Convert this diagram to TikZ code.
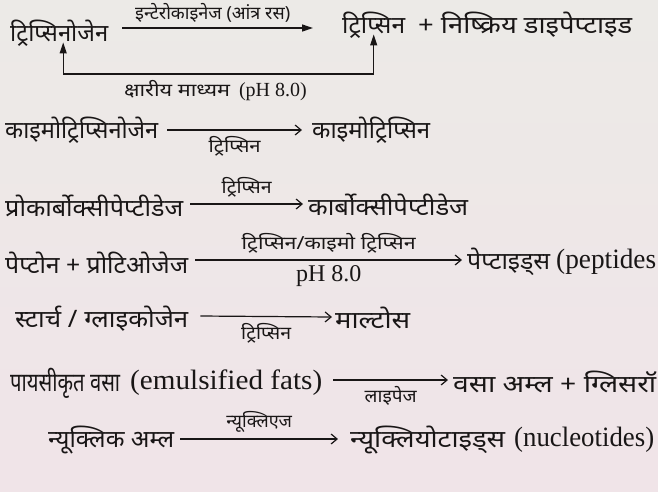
\documentclass[tikz,border=0pt]{standalone}
\usepackage{fontspec}
\usepackage{graphicx}
\setmainfont{Liberation Serif}
\newfontfamily\dev[Script=Devanagari,WordSpace=1.6]{Noto Sans}
\newfontfamily\devn[Script=Devanagari]{Noto Sans}
\usetikzlibrary{arrows.meta,calc}
\definecolor{ink}{RGB}{25,22,22}
\definecolor{papertop}{RGB}{236,234,231}
\definecolor{paperbot}{RGB}{240,228,232}
\tikzset{
  txt/.style={inner sep=0pt, anchor=west, text=ink, font=\dev\fontsize{24}{28}\selectfont},
  txtn/.style={txt, font=\devn\fontsize{24}{28}\selectfont},
  lat/.style={inner sep=0pt, anchor=west, text=ink, font=\rmfamily\fontsize{28}{32}\selectfont},
  lbl/.style={inner sep=0pt, text=ink, font=\dev\fontsize{18}{20}\selectfont},
  rxn/.style={draw=ink, line width=1.2pt, -{Straight Barb[length=6pt,width=10pt]}},
  rxnf/.style={draw=ink, line width=1.3pt, -{Triangle[length=11pt,width=7pt]}},
  fb/.style={draw=ink, line width=1.3pt, {Triangle[length=11pt,width=7pt]}-{Triangle[length=11pt,width=7pt]}},
}
\newcommand{\fw}[2]{\resizebox{#1}{\height}{#2}}
\begin{document}
\begin{tikzpicture}[x=1pt,y=-1pt]
\shade[top color=papertop, bottom color=paperbot] (0,0) rectangle (658,491);
\clip (0,0) rectangle (658,491);
% Row 1
\node[txt] (tg) at (10,33) {\fw{98pt}{ट्रिप्सिनोजेन}};
\node[txt] (tp) at (342,25) {\fw{63pt}{ट्रिप्सिन}};
\node[txt] (dp) at (418,25) {\fw{214pt}{+ निष्क्रिय डाइपेप्टाइड}};
\draw[rxnf] ($(tg.east)+(14,-5)$) -- ($(tp.west |- tg.east)+(-29,-5)$) node[lbl, midway, above=5pt, xshift=-5pt] {\fw{155pt}{इन्टेरोकाइनेज (आंत्र रस)}};
\coordinate (fbline) at (0,74);
\draw[fb] ([xshift=4pt,yshift=4pt]tg.south) -- ([xshift=4pt]tg.south |- fbline) -- ([xshift=0pt]tp.south |- fbline) node[lbl, pos=0.5, below=6pt, xshift=-3pt] {\fw{106pt}{क्षारीय माध्यम}\hspace{9pt}{\rmfamily\fontsize{20}{24}\selectfont (pH 8.0)}} -- ([xshift=0pt,yshift=4pt]tp.south);
% Row 2
\node[txt] (c1) at (5,130) {\fw{153pt}{काइमोट्रिप्सिनोजेन}};
\node[txt] (c2) at (312,130) {\fw{118pt}{काइमोट्रिप्सिन}};
\draw[rxn] ($(c1.east)+(9,0)$) -- ($(c2.west)+(-10,0)$) node[lbl, midway, below=6pt] {\fw{52pt}{ट्रिप्सिन}};
% Row 3
\node[txt] (p1) at (5,206) {\fw{178pt}{प्रोकार्बोक्सीपेप्टीडेज}};
\node[txt] (p2) at (308,205) {\fw{160pt}{कार्बोक्सीपेप्टीडेज}};
\draw[rxn] ($(p1.east)+(7,-2)$) -- ($(p2.west)+(-5,-1)$) node[lbl, midway, above=6pt] {\fw{50pt}{ट्रिप्सिन}};
% Row 4
\node[txtn] (q1) at (5,263) {\fw{183pt}{पेप्टोन + प्रोटिओजेज}};
\node[txt] (q2) at (467,262) {\fw{83pt}{पेप्टाइड्स}};
\node[lat] (q3) at (556,262) {\fw{100pt}{(peptides}};
\draw[rxn] ($(q1.east)+(7,-3)$) -- ($(q2.west)+(-5,-2)$) node[lbl, midway, above=6pt] {\fw{174pt}{ट्रिप्सिन/काइमो ट्रिप्सिन}} node[lbl, midway, below=5pt, font=\rmfamily\fontsize{24}{28}\selectfont] {pH 8.0};
% Row 5
\node[txt] (s1) at (15,319) {\fw{173pt}{स्टार्च / ग्लाइकोजेन}};
\node[txt] (s2) at (335,318) {\fw{75pt}{माल्टोस}};
\draw[rxn] ($(s1.east)+(12,-3)$) -- ($(s2.west)+(-3,-1)$) node[lbl, midway, below=6pt] {\fw{50pt}{ट्रिप्सिन}};
% Row 6
\node[txtn, font=\devn\fontsize{26}{30}\selectfont] (f1) at (10,383) {\fw{110pt}{पायसीकृत वसा}};
\node[lat] (f1l) at (130,383) {\fw{192pt}{(emulsified fats)}};
\node[txt] (f2) at (453,382) {\fw{203pt}{वसा अम्ल + ग्लिसरॉ}};
\draw[rxn] ($(f1l.east)+(11,-3)$) -- ($(f2.west)+(-5,-2)$) node[lbl, midway, below=6pt] {\fw{52pt}{लाइपेज}};
% Row 7
\node[txt] (n1) at (48,440) {\fw{126pt}{न्यूक्लिक अम्ल}};
\node[txt] (n2) at (350,440) {\fw{155pt}{न्यूक्लियोटाइड्स}};
\node[lat] (n3) at (514,440) {\fw{140pt}{(nucleotides)}};
\draw[rxn] ($(n1.east)+(6,-1)$) -- ($(n2.west)+(-12,-1)$) node[lbl, midway, above=6pt] {न्यूक्लिएज};
\end{tikzpicture}
\end{document}
